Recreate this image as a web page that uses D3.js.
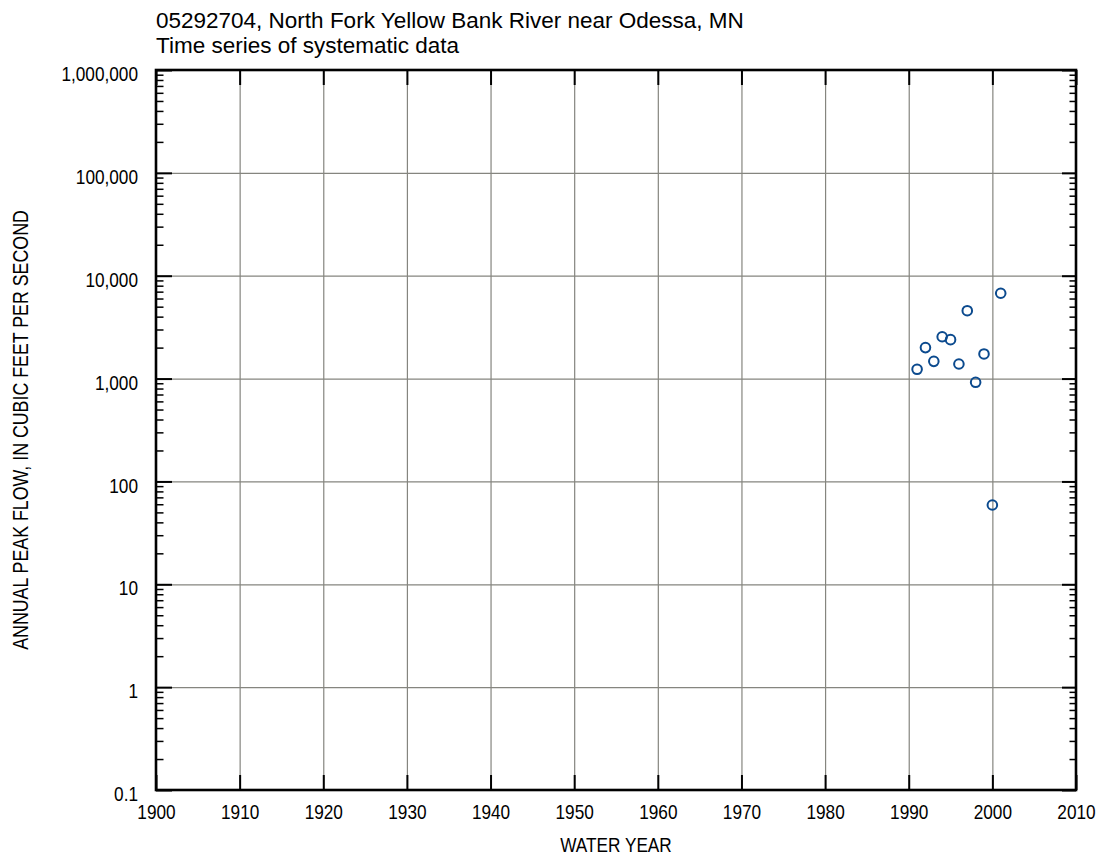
<!DOCTYPE html>
<html>
<head>
<meta charset="utf-8">
<script src="https://cdn.jsdelivr.net/npm/d3@7"></script>
<style>
  html, body { margin: 0; padding: 0; background: #fff; }
  svg { display: block; }
</style>
</head>
<body>
<svg id="chart" width="1102" height="856"></svg>
<script>
// ---- data ----
const titleLines = ["05292704, North Fork Yellow Bank River near Odessa, MN", "Time series of systematic data"];
const xLabel = "WATER YEAR";
const yLabel = "ANNUAL PEAK FLOW, IN CUBIC FEET PER SECOND";
const years = [1991, 1992, 1993, 1994, 1995, 1996, 1997, 1998, 1999, 2000, 2001];
const peaks = [1230, 2000, 1470, 2550, 2390, 1385, 4570, 920, 1735, 59, 6750];
const xTicks = [1900, 1910, 1920, 1930, 1940, 1950, 1960, 1970, 1980, 1990, 2000, 2010];
const yTicks = [0.1, 1, 10, 100, 1000, 10000, 100000, 1000000];

// ---- layout ----
const FONT = "'Liberation Sans', Arial, sans-serif";
const SX = 0.82; // horizontal condensing to mimic a narrow face
const m = { left: 156, top: 70, right: 26, bottom: 66 };
const W = 1102 - m.left - m.right;   // 920
const H = 856 - m.top - m.bottom;    // 720

const svg = d3.select("#chart");
const g = svg.append("g").attr("transform", `translate(${m.left},${m.top})`);

const x = d3.scaleLinear().domain([1900, 2010]).range([0, W]);
const y = d3.scaleLog().domain([0.1, 1000000]).range([H, 0]);

const minorY = [];
yTicks.slice(0, -1).forEach(d => { for (let k = 2; k <= 9; k++) minorY.push(+(d * k).toPrecision(6)); });

function condense(sel) {
  sel.each(function () {
    const t = d3.select(this);
    const x0 = +t.attr("x") || 0;
    t.attr("x", x0 / SX).attr("transform", `scale(${SX},1)`);
  });
}

// ---- gridlines ----
const gridX = g.append("g").attr("transform", `translate(0,${H})`)
  .call(d3.axisBottom(x).tickValues(xTicks.slice(1, -1)).tickSize(-H).tickFormat(""));
const gridY = g.append("g")
  .call(d3.axisLeft(y).tickValues(yTicks.slice(1, -1)).tickSize(-W).tickFormat(""));
[gridX, gridY].forEach(a => {
  a.select(".domain").remove();
  a.selectAll("line").attr("stroke", "#85857f").attr("stroke-width", 1.2);
});

// ---- inward ticks ----
function styleTicks(a, sw) {
  a.select(".domain").remove();
  a.selectAll("line").attr("stroke", "#000").attr("stroke-width", sw);
}
styleTicks(g.append("g").call(d3.axisLeft(y).tickValues(yTicks).tickSize(-16).tickFormat("")), 2);
styleTicks(g.append("g").call(d3.axisLeft(y).tickValues(minorY).tickSize(-7.5).tickFormat("")), 1.5);
styleTicks(g.append("g").attr("transform", `translate(${W},0)`).call(d3.axisRight(y).tickValues(yTicks).tickSize(-14).tickFormat("")), 2);
styleTicks(g.append("g").attr("transform", `translate(${W},0)`).call(d3.axisRight(y).tickValues(minorY).tickSize(-6.5).tickFormat("")), 1.5);
styleTicks(g.append("g").call(d3.axisTop(x).tickValues(xTicks).tickSize(-15).tickFormat("")), 2);
styleTicks(g.append("g").attr("transform", `translate(0,${H})`).call(d3.axisBottom(x).tickValues(xTicks).tickSize(-15).tickFormat("")), 2);

// ---- tick labels ----
const yAx = g.append("g")
  .call(d3.axisLeft(y).tickValues(yTicks).tickSize(0).tickPadding(18)
    .tickFormat(v => v < 1 ? "0.1" : d3.format(",")(v)));
yAx.select(".domain").remove();
yAx.selectAll("text").attr("dy", "0.51em").attr("fill", "#000")
  .style("font-family", FONT).style("font-size", "21px").call(condense);

const xAx = g.append("g").attr("transform", `translate(0,${H})`)
  .call(d3.axisBottom(x).tickValues(xTicks).tickSize(0).tickPadding(14.2).tickFormat(d3.format("d")));
xAx.select(".domain").remove();
xAx.selectAll("text").attr("fill", "#000")
  .style("font-family", FONT).style("font-size", "21px").call(condense);

// ---- frame ----
g.append("rect").attr("x", 0).attr("y", 0).attr("width", W).attr("height", H)
  .attr("fill", "none").attr("stroke", "#000").attr("stroke-width", 2.6);

// ---- points ----
g.append("g").selectAll("circle").data(years.map((yr, i) => ({ yr, v: peaks[i] })))
  .join("circle")
  .attr("cx", d => x(d.yr)).attr("cy", d => y(d.v)).attr("r", 4.8)
  .attr("fill", "none").attr("stroke", "#0b4a8e").attr("stroke-width", 2);

// ---- titles ----
svg.append("text").attr("x", 156).attr("y", 28)
  .style("font-family", FONT).style("font-size", "22.5px")
  .text(titleLines[0]);
svg.append("text").attr("x", 156).attr("y", 53)
  .style("font-family", FONT).style("font-size", "22.5px")
  .text(titleLines[1]);

svg.append("text").attr("transform", `translate(${m.left + W / 2},852) scale(${SX},1)`)
  .attr("text-anchor", "middle")
  .style("font-family", FONT).style("font-size", "21px").text(xLabel);

svg.append("text").attr("transform", `translate(28,${m.top + H / 2}) rotate(-90) scale(${SX},1)`)
  .attr("text-anchor", "middle")
  .style("font-family", FONT).style("font-size", "21.7px").text(yLabel);
</script>
</body>
</html>
